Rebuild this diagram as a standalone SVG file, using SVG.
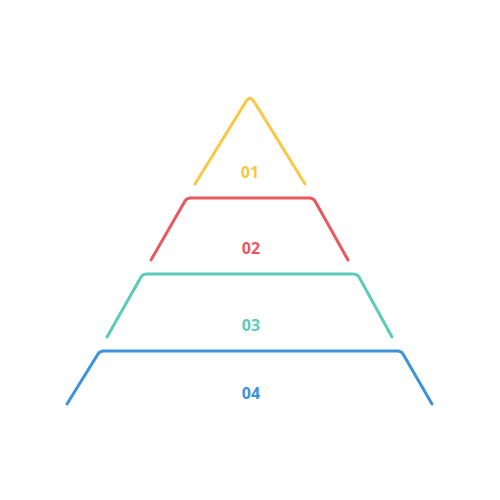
<svg xmlns="http://www.w3.org/2000/svg" width="500" height="500" viewBox="0 0 500 500">
<style>
.s{fill:none;stroke-width:3;stroke-linecap:round;stroke-linejoin:round}
.t{font-family:"Open Sans","Liberation Sans",sans-serif;font-weight:700;font-size:16px;text-anchor:middle}
</style>
<rect width="500" height="500" fill="#ffffff"/>
<g id="level1">
<path class="s" stroke="#F8C744" d="M195,184 L246,101.5 Q250,95 254,101.5 L305,184"/>
<text class="t" fill="#F8C744" x="250" y="178">01</text>
</g>
<g id="level2">
<path class="s" stroke="#E9585F" d="M151,260 L185,201 Q187,198 190.5,198 L309.5,198 Q313,198 315,201 L348,260"/>
<text class="t" fill="#E9585F" x="251" y="254">02</text>
</g>
<g id="level3">
<path class="s" stroke="#5CCBBA" d="M107,337 L141,277 Q143,274 146.5,274 L353.5,274 Q357,274 359,277 L392,337"/>
<text class="t" fill="#5CCBBA" x="251" y="331">03</text>
</g>
<g id="level4">
<path class="s" stroke="#3C93DA" d="M67,404 L98,354 Q100,351 103.5,351 L397.5,351 Q401,351 403,354 L432,404"/>
<text class="t" fill="#3C93DA" x="251" y="399">04</text>
</g>
</svg>
